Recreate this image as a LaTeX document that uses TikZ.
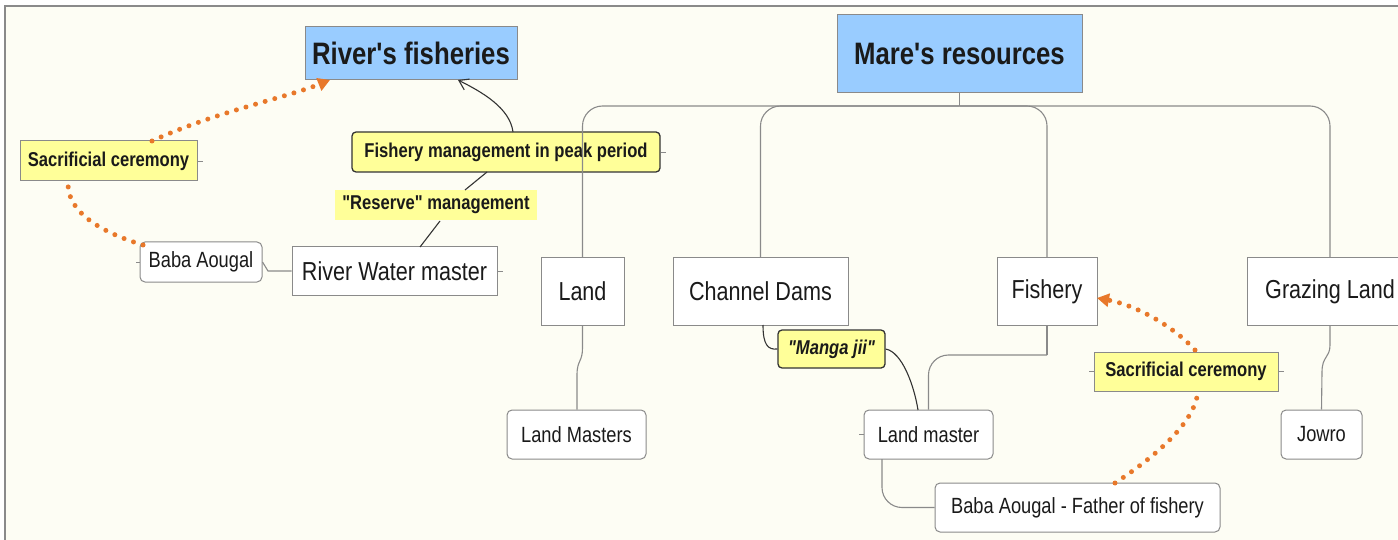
\documentclass[tikz,border=0pt]{standalone}
\usepackage{fontspec}
\setmainfont{Liberation Sans}[FakeStretch=0.83, Ligatures=TeXOff]
\usetikzlibrary{arrows.meta}
\definecolor{bg}{HTML}{FDFDF4}
\definecolor{blu}{HTML}{99CCFF}
\definecolor{yel}{HTML}{FFFF99}
\definecolor{org}{HTML}{E8782A}
\definecolor{gry}{HTML}{8A8A8A}
\definecolor{txt}{HTML}{1A1A1A}
\begin{document}
\begin{tikzpicture}[x=1pt,y=-1pt,
  every node/.style={inner sep=0pt, text=txt},
  titlebox/.style={draw=gry, fill=blu, line width=1pt, font=\fontsize{31}{34}\selectfont\bfseries},
  bigbox/.style={draw=gry, fill=white, line width=1pt, font=\fontsize{26}{30}\selectfont},
  smallbox/.style={draw=gry, fill=white, line width=1pt, rounded corners=5pt, font=\fontsize{22}{26}\selectfont},
  labbox/.style={fill=yel, font=\fontsize{20}{24}\selectfont\bfseries},
  darklab/.style={labbox, draw=black!80, line width=1.3pt, rounded corners=4pt},
  graylab/.style={labbox, draw=gry, line width=1pt},
  conn/.style={draw=gry, line width=1.1pt},
  rel/.style={draw=black!80, line width=1.1pt},
  dots/.style={draw=org, line width=5pt, line cap=round, dash pattern=on 0pt off 10pt},
  otip/.style={-{Triangle[length=12pt,width=13pt,fill=org]}},
  stub/.style={draw=gry, line width=0.8pt}
]
\useasboundingbox (0,0) rectangle (1398,540);
\fill[white] (0,0) rectangle (1398,540);
\filldraw[fill=bg, draw=gry, line width=1.2pt] (5,6) rectangle (1420,560);

% nodes
\node[titlebox, minimum width=212pt, minimum height=53pt] (rf) at (411,53.5) {River's fisheries};
\node[titlebox, minimum width=245pt, minimum height=78pt] (mr) at (959.5,54) {Mare's resources};

\node[bigbox, minimum width=83pt, minimum height=67pt] (land) at (582.5,291.5) {Land};
\node[bigbox, minimum width=175pt, minimum height=67pt] (cd) at (760.5,291.5) {Channel Dams};
\node[bigbox, minimum width=100pt, minimum height=67pt] (fish) at (1047,291.5) {Fishery};
\node[bigbox, minimum width=166pt, minimum height=67pt] (graz) at (1330,291.5) {Grazing Land};
\node[bigbox, minimum width=205pt, minimum height=48pt] (rwm) at (394.5,271) {River Water master};

\node[smallbox, minimum width=139pt, minimum height=49pt] (lms) at (576.5,434.5) {Land Masters};
\node[smallbox, minimum width=129pt, minimum height=49pt] (lm) at (928.5,434.5) {Land master};
\node[smallbox, minimum width=81pt, minimum height=49pt] (jow) at (1321.5,434.5) {Jowro};
\node[smallbox, minimum width=285pt, minimum height=49pt] (baf) at (1077.5,507.5) {Baba Aougal - Father of fishery};
\node[smallbox, minimum width=122pt, minimum height=40pt] (ba) at (201,262) {Baba Aougal};

\node[labbox, minimum width=202pt, minimum height=30pt] (res) at (436,205) {"Reserve" management};
\node[darklab, minimum width=308pt, minimum height=40pt] (fmp) at (506,152) {Fishery management in peak period};
\node[graylab, minimum width=177pt, minimum height=40pt] (sc1) at (108.5,161) {Sacrificial ceremony};
\node[graylab, minimum width=184pt, minimum height=39pt] (sc2) at (1186,371.5) {Sacrificial ceremony};
\node[darklab, minimum width=107pt, minimum height=38pt, font=\fontsize{20}{24}\selectfont\bfseries\itshape] (mj) at (831.5,349) {"Manga jii"};

% tree connectors
\coordinate (bus) at (959.5,106);
\draw[conn] (mr.south) -- (bus);
\draw[conn, rounded corners=20pt] (bus) -| (land.north);
\draw[conn, rounded corners=20pt] (bus) -| (cd.north);
\draw[conn, rounded corners=20pt] (bus) -| (fish.north);
\draw[conn, rounded corners=20pt] (bus) -| (graz.north);

\draw[conn] (land.south) -- (582.5,348) .. controls (582.5,362) and (577,360) .. (577,375) -- (lms.north -| 577,0);
\coordinate (fj) at (1047,355);
\draw[conn] (fish.south) -- (fj);
\draw[conn, rounded corners=20pt] (fj) -- (928.5,355) -- (lm.north);
\draw[conn] (graz.south) -- (1330,345) .. controls (1330,358) and (1322,356) .. (1322,372) -- (jow.north);
\draw[conn, rounded corners=20pt] (882,459) |- (baf.west);
\draw[conn] (ba.east) -- (268,271) -- (rwm.west);

% relations
\draw[rel] (763,325) .. controls (763,345) and (768,350) .. (mj.west);
\draw[rel] (mj.east) .. controls (902,352) and (914,385) .. (918,410);
\draw[rel] (420,247) -- (440,221);
\draw[rel] (465,190) -- (487,172);
\draw[rel, -{Straight Barb[length=9pt,width=12pt]}] (513,132) .. controls (510,108) and (482,92) .. (458,80);

% orange dotted relations
\draw[dots] (143,245) .. controls (100,232) and (68,212) .. (68,184);
\draw[dots, otip] (152,141) .. controls (215,112) and (285,98) .. (330,80);
\draw[dots] (1115,483) .. controls (1150,460) and (1190,428) .. (1197,397);
\draw[dots, otip] (1195,350) .. controls (1172,325) and (1135,305) .. (1097,298);

% small stubs
\draw[stub] (rwm.east) -- ++(5,0);
\draw[stub] (sc1.east) -- ++(5,0);
\draw[stub] (fmp.east) -- ++(5,0);
\draw[stub] (sc2.east) -- ++(5,0);
\draw[stub] (sc2.west) -- ++(-5,0);
\draw[stub] (lm.west) -- ++(-5,0);
\draw[stub] (ba.west) -- ++(-4,0);
\end{tikzpicture}
\end{document}
